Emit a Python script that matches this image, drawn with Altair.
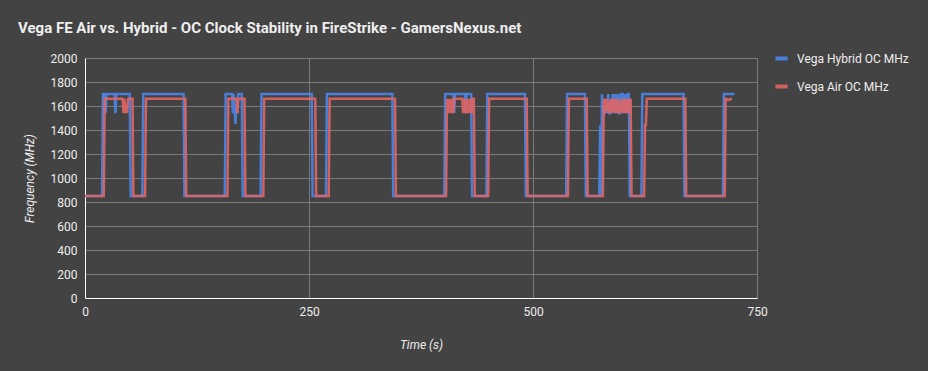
import altair as alt
import pandas as pd

# Vega Hybrid OC MHz (time s, MHz) breakpoints
hybrid_t = [0, 19, 20, 22, 23, 24, 33, 34, 35, 50, 51, 64, 65, 110, 111,
            156, 157, 164, 165, 166, 167, 168, 169, 170, 171, 175, 176,
            196, 197, 253, 254, 269, 270, 343, 344,
            401, 402, 411, 412, 413, 424, 425, 426, 431, 432,
            448, 449, 491, 492, 537, 538, 558, 559,
            574, 575, 576, 577, 578, 580, 581, 582, 584, 585, 586, 589, 590, 591, 592,
            593, 594, 595, 596, 597, 598, 600, 601, 602, 603, 604, 605, 606, 607, 608,
            621, 622, 668, 669, 712, 713, 725]
hybrid_v = [850, 850, 1700, 1700, 1540, 1700, 1700, 1540, 1700, 1700, 850, 850, 1700, 1700, 850,
            850, 1700, 1700, 1540, 1700, 1540, 1450, 1620, 1540, 1700, 1700, 850,
            850, 1700, 1700, 850, 850, 1700, 1700, 850,
            850, 1700, 1700, 1540, 1700, 1700, 1540, 1700, 1700, 850,
            850, 1700, 1700, 850, 850, 1700, 1700, 850,
            850, 1440, 850, 1700, 1540, 1540, 1600, 1540, 1700, 1540, 1540, 1700, 1540, 1700, 1540,
            1700, 1540, 1700, 1540, 1540, 1700, 1700, 1540, 1700, 1540, 1700, 1540, 1700, 1700, 850,
            850, 1700, 1700, 850, 850, 1700, 1700]

# Vega Air OC MHz
air_t = [0, 21, 22, 42, 43, 44, 45, 46, 47, 48, 53, 54, 67, 68, 112, 113,
         159, 160, 169, 170, 171, 178, 179, 199, 200, 257, 258, 272, 273, 346, 347,
         403, 404, 405, 406, 407, 408, 409, 410, 411, 412, 421, 422, 423, 424, 425, 426,
         427, 428, 429, 430, 431, 432, 433, 434, 435,
         450, 451, 493, 494, 539, 540, 560, 561,
         578, 579, 580, 581, 582, 583, 584, 585, 586, 587, 588, 589, 590, 591, 592, 593,
         594, 595, 596, 597, 598, 599, 600, 601, 602, 603, 604, 605, 606, 607, 608, 609, 610,
         624, 625, 626, 627, 670, 671, 714, 715, 718, 722]
air_v = [850, 850, 1660, 1660, 1540, 1660, 1540, 1620, 1540, 1660, 1660, 850, 850, 1660, 1660, 850,
         850, 1660, 1660, 1540, 1660, 1660, 850, 850, 1660, 1660, 850, 850, 1660, 1660, 850,
         850, 1660, 1540, 1660, 1540, 1660, 1540, 1660, 1540, 1660, 1660, 1540, 1660, 1540, 1660, 1540,
         1660, 1540, 1660, 1540, 1660, 1540, 1660, 1660, 850,
         850, 1660, 1660, 850, 850, 1660, 1660, 850,
         850, 1660, 1540, 1660, 1560, 1660, 1540, 1640, 1540, 1660, 1540, 1660, 1550, 1660, 1540, 1660,
         1540, 1660, 1540, 1620, 1540, 1660, 1540, 1660, 1540, 1660, 1540, 1660, 1540, 1660, 1540, 1660, 850,
         850, 1440, 1440, 1660, 1660, 850, 850, 1660, 1650, 1660]

series_names = ["Vega Hybrid OC MHz", "Vega Air OC MHz"]
series_colors = ["#4A86E8", "#E06666"]

df = pd.concat([
    pd.DataFrame({"t": hybrid_t, "v": hybrid_v, "series": series_names[0], "k": 0}),
    pd.DataFrame({"t": air_t, "v": air_v, "series": series_names[1], "k": 1}),
])

FONT = "Roboto"
TXT = "#eeeeee"

chart = alt.Chart(df).mark_line(strokeWidth=2.5, opacity=0.9).encode(
    x=alt.X("t:Q", scale=alt.Scale(domain=[0, 750], nice=False),
            axis=alt.Axis(values=[0, 250, 500, 750], title="Time (s)", format="d",
                          labelFlush=False, labelOverlap=False,
                          titleFontStyle="italic", titlePadding=22)),
    y=alt.Y("v:Q", scale=alt.Scale(domain=[0, 2000], nice=False),
            axis=alt.Axis(values=list(range(0, 2001, 200)), title="Frequency (MHz)",
                          format="d", labelFlush=False, labelOverlap=False,
                          titleFontStyle="italic", titlePadding=14)),
    color=alt.Color("series:N", scale=alt.Scale(domain=series_names, range=series_colors),
                    legend=alt.Legend(title=None, orient="none", legendX=688, legendY=-8,
                                      symbolType="stroke", symbolStrokeWidth=4,
                                      symbolSize=150, labelFontSize=12, labelColor=TXT,
                                      labelFont=FONT, rowPadding=11, labelOffset=7)),
    detail="k:N",
).properties(
    width=672, height=240,
    title=alt.TitleParams(
        "Vega FE Air vs. Hybrid - OC Clock Stability in FireStrike - GamersNexus.net",
        anchor="start", frame="group", dx=-67, offset=14,
        font=FONT, fontSize=15, fontWeight="bold", color=TXT),
    autosize=alt.AutoSizeParams(type="none"),
    padding={"left": 85, "top": 58, "right": 171, "bottom": 73},
    background="#434343",
).configure_view(stroke=None).configure_axis(
    labelFont=FONT, titleFont=FONT, labelColor=TXT, titleColor=TXT,
    labelFontSize=12, titleFontSize=12, titleFontWeight="normal",
    gridColor="#7a7a7a", gridWidth=1, ticks=False, domainColor="#ffffff",
    domainWidth=1, labelPadding=8,
)

chart.save("out.html", embed_options={"renderer": "svg", "actions": False})
